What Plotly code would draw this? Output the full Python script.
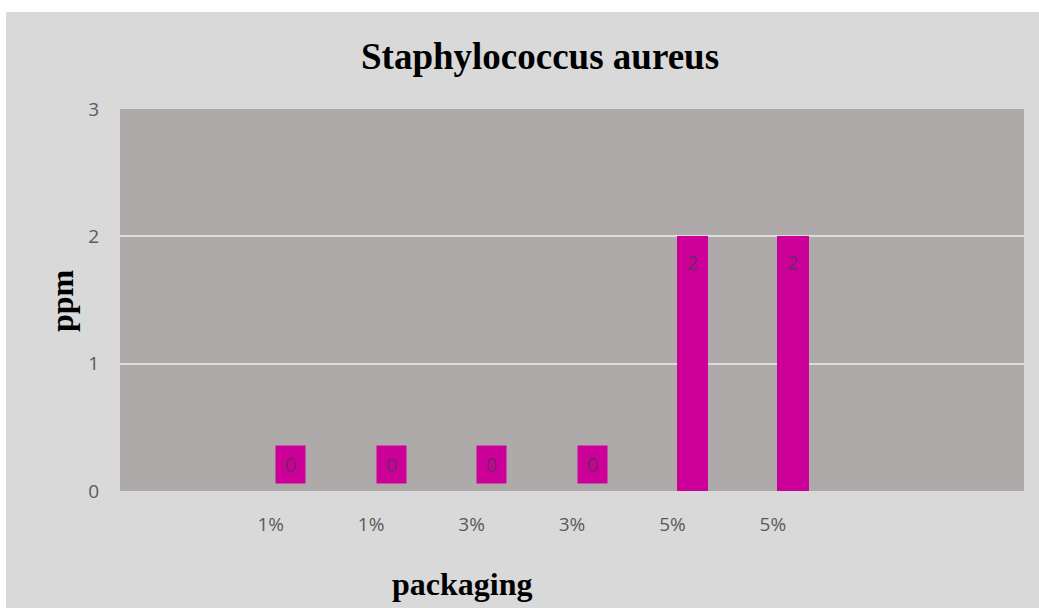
import plotly.graph_objects as go

# Packaging concentrations and S. aureus counts (ppm)
categories = ["1%", "1%", "3%", "3%", "5%", "5%"]
values = [0, 0, 0, 0, 2, 2]
y_ticks = [0, 1, 2, 3]

BAR_COLOR = "#cc0099"
PLOT_BG = "#aeaaaa"
PAPER_BG = "#d9d9d9"
TICK_COLOR = "#595959"
LABEL_COLOR = "#6e2763"

positions = [i + 1 for i in range(len(categories))]
shift = 0.2      # bars sit to the right of each category centre
bar_w = 0.31

fig = go.Figure()
fig.add_trace(go.Bar(
    x=positions,
    y=values,
    width=bar_w,
    offset=shift - bar_w / 2,
    marker=dict(color=BAR_COLOR, line=dict(width=0)),
    hoverinfo="x+y",
))

# Data labels: inside the bar top, or boxed above the axis for zero values
for p, v in zip(positions, values):
    if v > 0:
        fig.add_annotation(x=p + shift, y=v, text=str(v), showarrow=False,
                           yshift=-26, font=dict(family="Open Sans", size=20, color=LABEL_COLOR))
    else:
        fig.add_annotation(x=p + shift, y=v, text=str(v), showarrow=False,
                           yshift=26.5, width=29, height=37, bgcolor=BAR_COLOR,
                           borderpad=0,
                           font=dict(family="Open Sans", size=20, color=LABEL_COLOR))

W, H = 1039, 608
L, R, T, B = 120, 15, 109, 117
pw, ph = W - L - R, H - T - B

def px(xp):
    return (xp - L) / pw

def py(yp):
    return (H - B - yp) / ph

fig.add_annotation(xref="paper", yref="paper", x=px(540), y=py(57),
                   text="<b>Staphylococcus aureus</b>", showarrow=False,
                   xanchor="center", yanchor="middle",
                   font=dict(family="Liberation Serif", size=37, color="#000000"))
fig.add_annotation(xref="paper", yref="paper", x=px(462), y=py(584),
                   text="<b>packaging</b>", showarrow=False,
                   xanchor="center", yanchor="middle",
                   font=dict(family="Liberation Serif", size=32, color="#000000"))
fig.add_annotation(xref="paper", yref="paper", x=px(62), y=py(301),
                   text="<b>ppm</b>", showarrow=False, textangle=-90,
                   xanchor="center", yanchor="middle",
                   font=dict(family="Liberation Serif", size=32, color="#000000"))

# White frame strips along the top and left edges
fig.add_shape(type="rect", xref="paper", yref="paper", x0=px(-5), x1=px(W + 5),
              y0=py(12), y1=py(-5), fillcolor="#ffffff", line=dict(width=0), layer="above")
fig.add_shape(type="rect", xref="paper", yref="paper", x0=px(-5), x1=px(6),
              y0=py(H + 5), y1=py(-5), fillcolor="#ffffff", line=dict(width=0), layer="above")

fig.update_layout(
    width=W, height=H,
    margin=dict(l=L, r=R, t=T, b=B, pad=0),
    paper_bgcolor=PAPER_BG,
    plot_bgcolor=PLOT_BG,
    showlegend=False,
    bargap=0,
    font=dict(family="Open Sans", size=19, color=TICK_COLOR),
)
fig.update_xaxes(
    range=[-0.5, 8.5],
    tickmode="array", tickvals=positions, ticktext=categories,
    showgrid=False, zeroline=False, showline=False, ticks="",
    ticklabelstandoff=20,
    tickfont=dict(family="Open Sans", size=19, color=TICK_COLOR),
)
fig.update_yaxes(
    range=[0, 3],
    tickmode="array", tickvals=y_ticks, ticktext=[str(t) for t in y_ticks],
    showgrid=True, gridcolor="#dcdcdc", gridwidth=1.5,
    zeroline=False, showline=False, ticks="",
    ticklabelstandoff=20,
    tickfont=dict(family="Open Sans", size=19, color=TICK_COLOR),
)

fig.write_html("out.html")
